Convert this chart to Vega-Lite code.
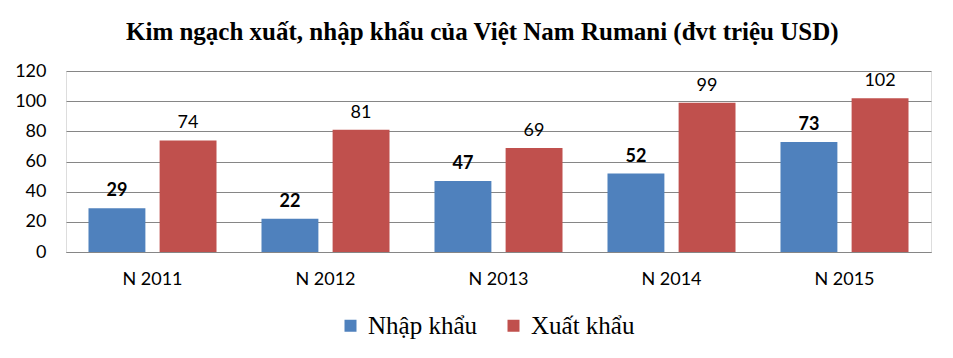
{
  "$schema": "https://vega.github.io/schema/vega-lite/v6.json",
  "width": 865,
  "height": 181,
  "padding": {"left": 14, "top": 20, "right": 22, "bottom": 10},
  "background": "white",
  "title": {
    "text": "Kim ngạch xuất, nhập khẩu của Việt Nam Rumani (đvt triệu USD)",
    "anchor": "start",
    "frame": "group",
    "dx": 60,
    "font": "Liberation Serif",
    "fontSize": 25,
    "fontWeight": "bold",
    "color": "#000000",
    "offset": 17
  },
  "data": {
    "values": [
      {"year": "N 2011", "type": "Nhập khẩu", "value": 29},
      {"year": "N 2012", "type": "Nhập khẩu", "value": 22},
      {"year": "N 2013", "type": "Nhập khẩu", "value": 47},
      {"year": "N 2014", "type": "Nhập khẩu", "value": 52},
      {"year": "N 2015", "type": "Nhập khẩu", "value": 73},
      {"year": "N 2011", "type": "Xuất khẩu", "value": 74},
      {"year": "N 2012", "type": "Xuất khẩu", "value": 81},
      {"year": "N 2013", "type": "Xuất khẩu", "value": 69},
      {"year": "N 2014", "type": "Xuất khẩu", "value": 99},
      {"year": "N 2015", "type": "Xuất khẩu", "value": 102}
    ]
  },
  "encoding": {
    "x": {
      "field": "year",
      "type": "nominal",
      "scale": {"paddingInner": 0.26, "paddingOuter": 0.13},
      "axis": {
        "title": null,
        "labelAngle": 0,
        "labelFont": "Lato",
        "labelFontSize": 18,
        "labelColor": "#000000",
        "labelPadding": 18,
        "ticks": false,
        "domainColor": "#868686",
        "domainWidth": 1,
        "grid": false
      }
    },
    "xOffset": {
      "field": "type",
      "type": "nominal",
      "sort": ["Nhập khẩu", "Xuất khẩu"],
      "scale": {"paddingInner": 0.2, "paddingOuter": 0}
    },
    "y": {
      "field": "value",
      "type": "quantitative",
      "scale": {"domain": [0, 120], "nice": false},
      "axis": {
        "title": null,
        "values": [0, 20, 40, 60, 80, 100, 120],
        "labelFont": "Lato",
        "labelFontSize": 18,
        "labelColor": "#000000",
        "labelPadding": 20,
        "ticks": false,
        "domain": false,
        "gridColor": "#868686",
        "gridWidth": 1
      }
    }
  },
  "layer": [
    {
      "mark": {"type": "bar"},
      "encoding": {
        "color": {
          "field": "type",
          "type": "nominal",
          "sort": ["Nhập khẩu", "Xuất khẩu"],
          "scale": {"domain": ["Nhập khẩu", "Xuất khẩu"], "range": ["#4F81BD", "#C0504D"]},
          "legend": {
            "title": null,
            "orient": "none",
            "legendX": 272,
            "legendY": 242,
            "direction": "horizontal",
            "symbolType": "square",
            "symbolSize": 144,
            "symbolStrokeWidth": 0,
            "labelFont": "Liberation Serif",
            "labelFontSize": 25,
            "labelColor": "#000000",
            "labelOffset": 5,
            "columnPadding": 24
          }
        }
      }
    },
    {
      "transform": [{"filter": "datum.type === 'Nhập khẩu'"}],
      "mark": {"type": "text", "baseline": "bottom", "dy": -8, "font": "Lato", "fontSize": 18, "fontWeight": "bold", "color": "#000000"},
      "encoding": {"text": {"field": "value", "type": "quantitative"}}
    },
    {
      "transform": [{"filter": "datum.type === 'Xuất khẩu'"}],
      "mark": {"type": "text", "baseline": "bottom", "dy": -8, "font": "Lato", "fontSize": 18, "fontWeight": "normal", "color": "#000000"},
      "encoding": {"text": {"field": "value", "type": "quantitative"}}
    }
  ]
}
